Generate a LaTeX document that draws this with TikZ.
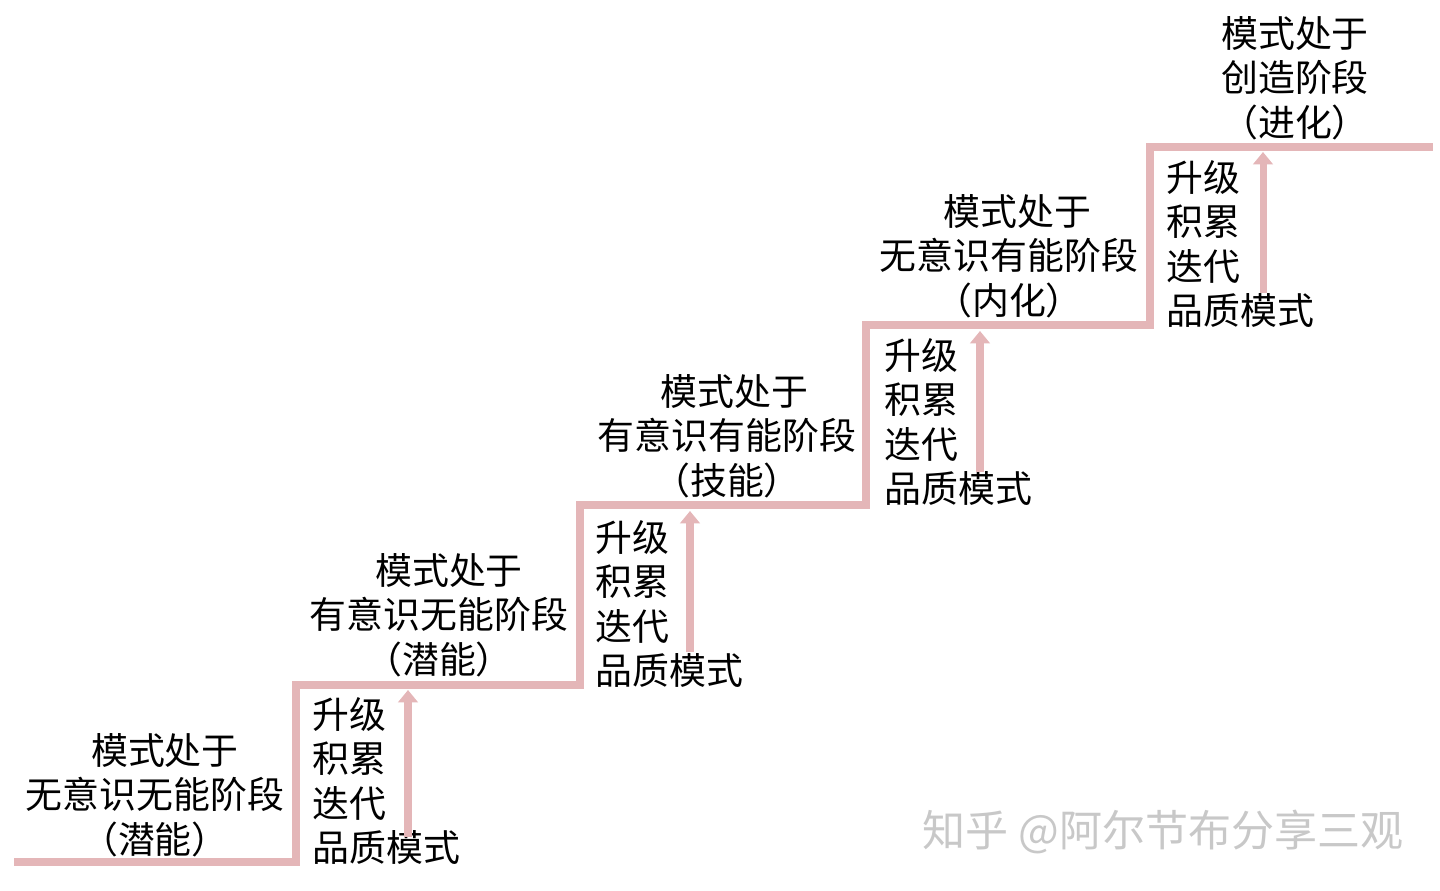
\documentclass[tikz,border=0pt]{standalone}
\usepackage{fontspec}
\setmainfont{Noto Sans CJK SC}
\usetikzlibrary{arrows.meta}
\definecolor{stair}{RGB}{228,182,184}
\definecolor{wmgray}{RGB}{200,200,200}

\begin{document}
\begin{tikzpicture}[x=0.02cm,y=-0.02cm,>={Triangle[length=7pt,width=11pt]},
 font=\fontsize{21}{25.4}\selectfont,
 stage/.style={align=center,inner sep=0pt},
 work/.style={align=left,anchor=west,inner sep=0pt},
 stairline/.style={line width=4.4pt,stair},
 up/.style={->,line width=4pt,stair}]
\useasboundingbox (0,0) rectangle (1440,891);
% corners of the staircase
\coordinate (c0) at (14,862);
\coordinate (c1) at (296,862);
\coordinate (c2) at (296,685);
\coordinate (c3) at (580,685);
\coordinate (c4) at (580,505);
\coordinate (c5) at (866,505);
\coordinate (c6) at (866,325);
\coordinate (c7) at (1150,325);
\coordinate (c8) at (1150,147);
\coordinate (c9) at (1433,147);
\draw[stairline] (c0) -- (c1) -- (c2) -- (c3) -- (c4) -- (c5) -- (c6) -- (c7) -- (c8) -- (c9);
% stages
\node[stage] (s0) at (155,795) {\hspace*{0.4cm}模式处于\\无意识无能阶段\\（潜能）};
\node[stage] (s1) at (439,615) {\hspace*{0.4cm}模式处于\\有意识无能阶段\\（潜能）};
\node[stage] (s2) at (727,436) {\hspace*{0.3cm}模式处于\\有意识有能阶段\\（技能）};
\node[stage] (s3) at (1009,256) {\hspace*{0.35cm}模式处于\\无意识有能阶段\\（内化）};
\node[stage] (s4) at (1295,78) {模式处于\\创造阶段\\（进化）};
% what moves one step up
\node[work] (w1) at (312,781) {升级\\积累\\迭代\\品质模式};
\node[work] (w2) at (595,604) {升级\\积累\\迭代\\品质模式};
\node[work] (w3) at (884,422) {升级\\积累\\迭代\\品质模式};
\node[work] (w4) at (1166,244) {升级\\积累\\迭代\\品质模式};
\coordinate (a1) at (408,837); \coordinate (b1) at (408,690);
\coordinate (a2) at (690,652); \coordinate (b2) at (690,511);
\coordinate (a3) at (980,472); \coordinate (b3) at (980,331);
\coordinate (a4) at (1263,293); \coordinate (b4) at (1263,152);
\draw[up] (a1) -- (b1);
\draw[up] (a2) -- (b2);
\draw[up] (a3) -- (b3);
\draw[up] (a4) -- (b4);
\node[wmgray,inner sep=0pt,font=\fontsize{24.5}{28}\selectfont] (wm) at (1163,832) {知乎 @阿尔节布分享三观};
\end{tikzpicture}
\end{document}
